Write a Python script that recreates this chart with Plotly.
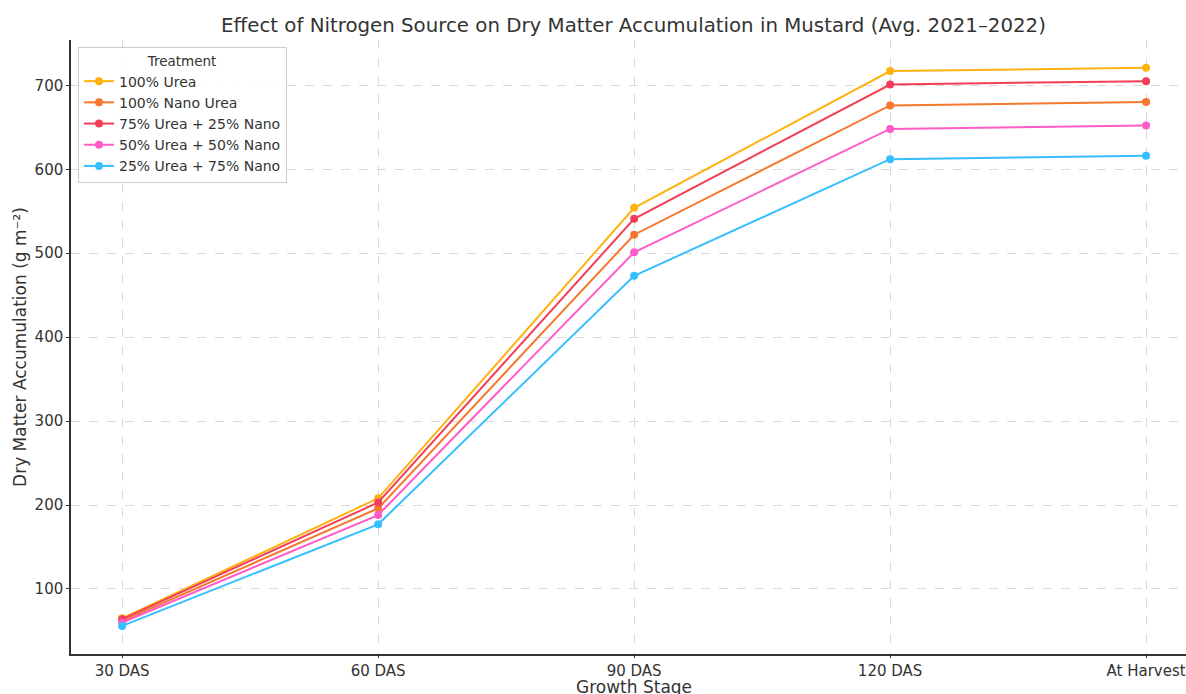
import plotly.graph_objects as go

stages = ["30 DAS", "60 DAS", "90 DAS", "120 DAS", "At Harvest"]
urea_100 = [65, 208, 554, 717, 721]
nano_100 = [62, 196, 522, 676, 680]
u75_n25 = [64, 203, 541, 701, 705]
u50_n50 = [60, 188, 501, 648, 652]
u25_n75 = [56, 177, 473, 612, 616]

series = [
    ("100% Urea", urea_100, "#FFB10F"),
    ("100% Nano Urea", nano_100, "#F5782C"),
    ("75% Urea + 25% Nano", u75_n25, "#F23F58"),
    ("50% Urea + 50% Nano", u50_n50, "#FF5CC8"),
    ("25% Urea + 75% Nano", u25_n75, "#36BFFF"),
]

fig = go.Figure()
for name, vals, col in series:
    fig.add_trace(go.Scatter(
        x=list(range(len(stages))), y=vals, name=name, mode="lines+markers",
        line=dict(color=col, width=2), marker=dict(color=col, size=8),
    ))

fig.update_layout(
    width=1186, height=694,
    margin=dict(l=71, r=0, t=40, b=40, autoexpand=False),
    paper_bgcolor="white", plot_bgcolor="white",
    font=dict(family="DejaVu Sans", color="#333333", size=15),
    title=dict(text="Effect of Nitrogen Source on Dry Matter Accumulation in Mustard (Avg. 2021–2022)",
               xref="paper", x=0.5045, xanchor="center", y=0.964, yanchor="middle",
               font=dict(size=19.8, color="#333333")),
    legend=dict(x=0.0063, y=0.9886, xanchor="left", yanchor="top",
                bgcolor="rgba(255,255,255,0.85)", bordercolor="#cccccc", borderwidth=1,
                title=dict(text="Treatment", side="top center", font=dict(size=13.5)),
                font=dict(size=14), tracegroupgap=0, itemwidth=30),
    showlegend=True,
    annotations=[dict(text="Growth Stage", xref="paper", yref="paper",
                      x=0.5045, y=-0.054, xanchor="center", yanchor="middle",
                      showarrow=False, font=dict(size=17, color="#333333"))],
)
fig.update_xaxes(
    tickmode="array", tickvals=list(range(len(stages))), ticktext=stages,
    range=[-0.2, 4.156], showgrid=True, gridcolor="#d9d9d9", griddash="dash",
    showline=True, linecolor="#333333", linewidth=1.5, ticks="outside", ticklen=2,
    tickcolor="#333333", zeroline=False, automargin=False,
)
fig.update_yaxes(
    range=[22.5, 754], tickvals=[100, 200, 300, 400, 500, 600, 700],
    showgrid=True, gridcolor="#d9d9d9", griddash="dash",
    showline=True, linecolor="#333333", linewidth=1.5, ticks="outside", ticklen=3,
    tickcolor="#333333", zeroline=False, automargin=False,
    title=dict(text="Dry Matter Accumulation (g m⁻²)", font=dict(size=17), standoff=4),
)
fig.write_html("out.html", config={"displayModeBar": False},
               post_script="document.body.style.margin='0';document.body.style.overflow='hidden';")
